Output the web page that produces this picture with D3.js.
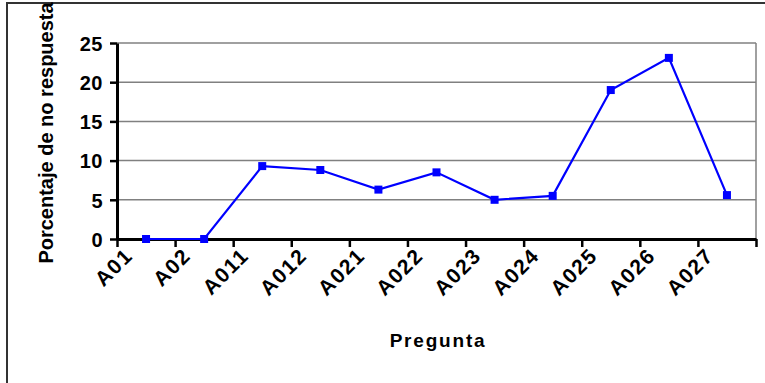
<!DOCTYPE html>
<html><head><meta charset="utf-8">
<script src="https://cdn.jsdelivr.net/npm/d3@7/dist/d3.min.js"></script>
<style>
html,body{margin:0;padding:0;background:#fff;}
svg{display:block;}
text{font-family:"Liberation Sans",Arial,sans-serif;font-weight:bold;fill:#000;}
</style></head>
<body>
<svg id="chart" width="765" height="383"></svg>
<script>
const categories = ["A01","A02","A011","A012","A021","A022","A023","A024","A025","A026","A027"];
const values = [0, 0, 9.3, 8.8, 6.3, 8.5, 5.0, 5.5, 19.0, 23.1, 5.6];
const yTicks = [0, 5, 10, 15, 20, 25];
const yTitle = "Porcentaje de no respuesta";
const xTitle = "Pregunta";

const svg = d3.select("#chart");
const L = 117, R = 756, T = 43, B = 239;

// outer frame
svg.append("rect").attr("x", 7).attr("y", 3).attr("width", 800).attr("height", 420)
  .attr("fill", "none").attr("stroke", "#333").attr("stroke-width", 2);

const x = d3.scaleBand().domain(categories).range([L, R]).padding(0);
const xt = d3.scaleLinear().domain([0, categories.length]).range([L, R]);
const y = d3.scaleLinear().domain([0, 25]).range([B, T]);

// gridlines
svg.append("g").selectAll("line").data(yTicks).join("line")
  .attr("x1", L).attr("x2", R).attr("y1", d => y(d)).attr("y2", d => y(d))
  .attr("stroke", "#808080").attr("stroke-width", 1.5);
// plot border (right)
svg.append("line").attr("x1", R).attr("x2", R).attr("y1", T).attr("y2", B)
  .attr("stroke", "#808080").attr("stroke-width", 1.5);

// y axis
const ya = svg.append("g").attr("transform", `translate(${L},0)`)
  .call(d3.axisLeft(y).tickValues(yTicks).tickSize(7).tickSizeOuter(0).tickPadding(7));
ya.select(".domain").attr("stroke", "#000").attr("stroke-width", 3);
ya.selectAll(".tick line").attr("stroke", "#000").attr("stroke-width", 2.5);
ya.selectAll(".tick text").style("font-size", "20px").style("font-family", "Liberation Sans, Arial, sans-serif").style("font-weight", "bold").style("letter-spacing", "0.5px").attr("dy", "0.36em");

// x axis
const xa = svg.append("g").attr("transform", `translate(0,${B})`)
  .call(d3.axisBottom(xt).tickValues(d3.range(categories.length + 1)).tickSize(8).tickSizeOuter(0).tickFormat(""));
xa.select(".domain").attr("stroke", "#000").attr("stroke-width", 3);
xa.selectAll(".tick line").attr("stroke", "#000").attr("stroke-width", 2.5);

// x labels
svg.append("g").selectAll("text").data(categories).join("text")
  .attr("transform", (d, i) => `translate(${xt(i) + 17},${B + 18}) rotate(-45)`)
  .attr("text-anchor", "end")
  .style("font-size", "21px").style("letter-spacing", "1.5px")
  .text(d => d);

// line
const line = d3.line().x((d, i) => x(categories[i]) + x.bandwidth() / 2).y(d => y(d));
svg.append("path").datum(values).attr("d", line)
  .attr("fill", "none").attr("stroke", "#0000FF").attr("stroke-width", 2.2);
svg.append("g").selectAll("rect").data(values).join("rect")
  .attr("x", (d, i) => x(categories[i]) + x.bandwidth() / 2 - 4)
  .attr("y", d => y(d) - 4).attr("width", 8).attr("height", 8)
  .attr("fill", "#0000FF");

// titles
svg.append("text").attr("transform", `translate(53,133) rotate(-90)`)
  .attr("text-anchor", "middle").style("font-size", "20px").text(yTitle);
svg.append("text").attr("x", 438).attr("y", 347)
  .attr("text-anchor", "middle").style("font-size", "19px").style("letter-spacing", "1.8px").text(xTitle);
</script>
</body></html>
